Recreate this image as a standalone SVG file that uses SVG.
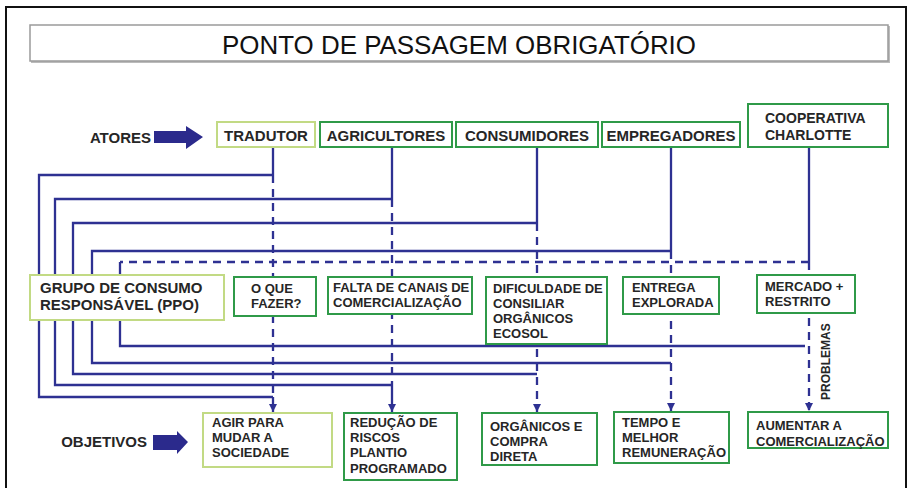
<svg xmlns="http://www.w3.org/2000/svg" width="910" height="488" viewBox="0 0 910 488">
<style>
.t{font-family:"Liberation Sans",Arial,sans-serif;font-weight:bold;fill:#262626}
.a{font-size:15px}
.c{font-size:14px}
.m{font-size:13px}
.lg{fill:#fff;stroke:#c2da84;stroke-width:2}
.dg{fill:#fff;stroke:#2f9a48;stroke-width:2}
.ln{fill:none;stroke:#2e3192;stroke-width:2.3}
.ds{fill:none;stroke:#2e3192;stroke-width:2.3;stroke-dasharray:8 6}
.big{fill:#2b2a8c}
</style>
<defs>
<marker id="ah" markerUnits="userSpaceOnUse" markerWidth="8" markerHeight="8" refX="8" refY="4" orient="auto">
<path d="M0,0 L8,4 L0,8 z" fill="#2e3192"/>
</marker>
</defs>
<rect x="0" y="0" width="910" height="488" fill="#fff"/>
<rect x="6" y="7" width="900" height="500" fill="none" stroke="#111" stroke-width="2"/>

<g id="title">
<rect x="31" y="26" width="859" height="37" fill="#bbb"/>
<rect x="30" y="25" width="858" height="36" fill="#fff" stroke="#9a9a9a" stroke-width="1.5"/>
<text x="459" y="54" text-anchor="middle" font-family="Liberation Sans,Arial,sans-serif" font-size="25" fill="#111" textLength="474" lengthAdjust="spacingAndGlyphs">PONTO DE PASSAGEM OBRIGATÓRIO</text>
</g>

<g id="connectors">
<path class="ln" d="M273,147 V175 M392,147 V199 M537,147 V223 M671,147 V251 M809,147 V262"/>
<path class="ln" d="M273,175 H39 V397 H273"/>
<path class="ln" d="M392,199 H55 V385 H392"/>
<path class="ln" d="M537,223 H73 V374 H537"/>
<path class="ln" d="M671,251 H92 V363 H671"/>
<path class="ds" d="M809,262 H120"/>
<path class="ln" d="M120,262 V346 H805"/>
<path class="ds" d="M273,175 V397"/>
<path class="ds" d="M392,199 V385"/>
<path class="ln" d="M273,397 V412" marker-end="url(#ah)"/>
<path class="ln" d="M392,385 V412" marker-end="url(#ah)"/>
<path class="ds" d="M537,223 V412" marker-end="url(#ah)"/>
<path class="ds" d="M671,251 V411" marker-end="url(#ah)"/>
<path class="ds" d="M809,262 V411" marker-end="url(#ah)"/>
</g>

<g id="atores">
<text class="t a" x="151" y="143" text-anchor="end">ATORES</text>
<path class="big" d="M154,131 H186 V126 L203,137 L186,149 V143 H154 z"/>
</g>
<g id="objetivos">
<text class="t a" x="147" y="447" text-anchor="end">OBJETIVOS</text>
<path class="big" d="M153,435 H177 V431 L188,442 L177,454 V450 H153 z"/>
</g>

<g id="tradutor"><rect class="lg" x="217" y="122" width="98" height="25"/><text class="t a" x="266" y="141" text-anchor="middle">TRADUTOR</text></g>
<g id="agricultores"><rect class="dg" x="320" y="122" width="132" height="25"/><text class="t a" x="386" y="141" text-anchor="middle">AGRICULTORES</text></g>
<g id="consumidores"><rect class="dg" x="456" y="122" width="142" height="25"/><text class="t a" x="527" y="141" text-anchor="middle">CONSUMIDORES</text></g>
<g id="empregadores"><rect class="dg" x="602" y="122" width="138" height="25"/><text class="t a" x="671" y="141" text-anchor="middle">EMPREGADORES</text></g>
<g id="cooperativa"><rect class="dg" x="748" y="104" width="140" height="43"/><text class="t c" x="765" y="123">COOPERATIVA</text><text class="t c" x="765" y="140">CHARLOTTE</text></g>

<g id="grupo"><rect class="lg" x="30" y="275" width="194" height="45"/><text class="t a" x="40" y="293">GRUPO DE CONSUMO</text><text class="t a" x="40" y="310">RESPONSÁVEL (PPO)</text></g>
<g id="oque"><rect class="dg" x="234" y="277" width="82" height="39"/><text class="t m" x="251" y="293">O QUE</text><text class="t m" x="251" y="308">FAZER?</text></g>
<g id="falta"><rect class="dg" x="328" y="277" width="144" height="37"/><text class="t m" x="333" y="292">FALTA DE CANAIS DE</text><text class="t m" x="333" y="307">COMERCIALIZAÇÃO</text></g>
<g id="dificuldade"><rect class="dg" x="486" y="277" width="121" height="67"/><text class="t m" x="493" y="293">DIFICULDADE DE</text><text class="t m" x="493" y="308">CONSILIAR</text><text class="t m" x="493" y="323">ORGÂNICOS</text><text class="t m" x="493" y="338">ECOSOL</text></g>
<g id="entrega"><rect class="dg" x="623" y="277" width="96" height="37"/><text class="t m" x="632" y="292">ENTREGA</text><text class="t m" x="632" y="307">EXPLORADA</text></g>
<g id="mercado"><rect class="dg" x="757" y="275" width="98" height="38"/><text class="t m" x="765" y="291">MERCADO +</text><text class="t m" x="765" y="306">RESTRITO</text></g>

<g id="problemas"><text class="t" font-size="12" transform="translate(830,400) rotate(-90)">PROBLEMAS</text></g>

<g id="agir"><rect class="lg" x="203" y="413" width="129" height="54"/><text class="t m" x="212" y="427">AGIR PARA</text><text class="t m" x="212" y="442">MUDAR A</text><text class="t m" x="212" y="457">SOCIEDADE</text></g>
<g id="reducao"><rect class="dg" x="344" y="413" width="113" height="67" stroke-width="2.6"/><text class="t m" x="350" y="427">REDUÇÃO DE</text><text class="t m" x="350" y="442">RISCOS</text><text class="t m" x="350" y="457">PLANTIO</text><text class="t m" x="350" y="473">PROGRAMADO</text></g>
<g id="organicos"><rect class="dg" x="482" y="413" width="115" height="52"/><text class="t m" x="490" y="431">ORGÂNICOS E</text><text class="t m" x="490" y="446">COMPRA</text><text class="t m" x="490" y="461">DIRETA</text></g>
<g id="tempo"><rect class="dg" x="614" y="412" width="115" height="51"/><text class="t m" x="622" y="427">TEMPO E</text><text class="t m" x="622" y="442">MELHOR</text><text class="t m" x="622" y="457">REMUNERAÇÃO</text></g>
<g id="aumentar"><rect class="dg" x="748" y="412" width="140" height="36"/><text class="t m" x="756" y="430">AUMENTAR A</text><text class="t m" x="756" y="446">COMERCIALIZAÇÃO</text></g>
</svg>
